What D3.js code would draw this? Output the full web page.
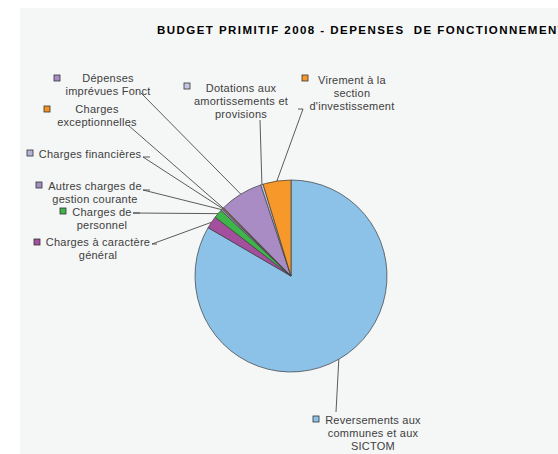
<!DOCTYPE html>
<html>
<head>
    <meta charset="UTF-8">
    <style>
        * { margin: 0; padding: 0; }
        body { background-color: #fff; }
        .lbl { font-family: "Liberation Sans", Arial, sans-serif; font-size: 11px; fill: #404040; letter-spacing: 0.25px; }
        .title { font-family: "Liberation Sans", Arial, sans-serif; font-size: 11.5px; font-weight: bold; fill: #000; letter-spacing: 1.45px; }
    </style>
    <script src="https://d3js.org/d3.v7.min.js"></script>
    <title>Budget primitif 2008</title>
</head>
<body>
<svg id="chart" width="558" height="454"></svg>
<script>
    // data, in % of the total, in slice order (clockwise from 12 o'clock)
    var categories = [
        "Reversements aux communes et aux SICTOM",
        "Charges à caractère général",
        "Charges de personnel",
        "Autres charges de gestion courante",
        "Charges financières",
        "Charges exceptionnelles",
        "Dépenses imprévues Fonct",
        "Dotations aux amortissements et provisions",
        "Virement à la section d'investissement"
    ];
    var values = [83.4, 2.1, 1.5, 0.3, 0.15, 0.15, 7.3, 0.4, 4.7];
    var colors = ["#8cc1e8", "#a44f9e", "#3db54a", "#a18fc2", "#b4b4d6",
                  "#f39222", "#a98cc4", "#c6c6e6", "#f7982a"];

    // label lines as drawn (line breaks)
    var labelLines = [
        ["Reversements aux", "communes et aux", "SICTOM"],
        ["Charges à caractère", "général"],
        ["Charges de", "personnel"],
        ["Autres charges de", "gestion courante"],
        ["Charges financières"],
        ["Charges", "exceptionnelles"],
        ["Dépenses", "imprévues Fonct"],
        ["Dotations aux", "amortissements et", "provisions"],
        ["Virement à la", "section", "d'investissement"]
    ];

    // layout: label centre, first baseline, key marker, leader line start
    var layout = [
        {x: 373, y: 424, kx: 316, ky: 419, lx: 336, ly: 412, hx: 336},
        {x: 98,  y: 246, kx: 37,  ky: 242, lx: 152, ly: 244, hx: 157},
        {x: 102, y: 216, kx: 63,  ky: 211, lx: 133, ly: 213, hx: 140},
        {x: 95,  y: 190, kx: 39,  ky: 185, lx: 143, ly: 190, hx: 150},
        {x: 90,  y: 158, kx: 30,  ky: 153, lx: 143, ly: 157, hx: 150},
        {x: 97,  y: 113, kx: 47,  ky: 109, lx: 128, ly: 125, hx: 128},
        {x: 108, y: 82,  kx: 57,  ky: 78,  lx: 141, ly: 93,  hx: 141},
        {x: 241, y: 92,  kx: 187, ky: 86,  lx: 260, ly: 120, hx: 260},
        {x: 352, y: 84,  kx: 305, ky: 78,  lx: 303, ly: 109, hx: 298}
    ];

    var svg = d3.select("#chart");
    var cx = 291, cy = 276, r = 96;

    svg.append("rect")
        .attr("x", 20).attr("y", 8)
        .attr("width", 538).attr("height", 446)
        .attr("fill", "#f5f6f6");

    svg.append("text")
        .attr("class", "title")
        .attr("x", 157).attr("y", 34)
        .style("white-space", "pre")
        .text("BUDGET PRIMITIF 2008 - DEPENSES  DE FONCTIONNEMENT");

    var pie = d3.pie().sort(null).value(function(d) { return d; });
    var arc = d3.arc().innerRadius(0).outerRadius(r);
    var arcs = pie(values);

    var g = svg.append("g")
        .attr("transform", "translate(" + cx + "," + cy + ")");

    g.selectAll(".slice")
        .data(arcs)
        .enter()
        .append("path")
        .attr("class", "slice")
        .attr("d", arc)
        .attr("fill", function(d, i) { return colors[i]; })
        .attr("stroke", "#3c3c3c")
        .attr("stroke-width", 0.7);

    // leader lines: label -> middle of the slice's outer arc
    function edgePoint(d) {
        var a = (d.startAngle + d.endAngle) / 2;
        return [cx + r * Math.sin(a), cy - r * Math.cos(a)];
    }

    svg.selectAll(".leader")
        .data(arcs)
        .enter()
        .append("polyline")
        .attr("class", "leader")
        .attr("fill", "none")
        .attr("stroke", "#333")
        .attr("stroke-width", 0.8)
        .attr("points", function(d, i) {
            var p = edgePoint(d), L = layout[i];
            return [L.hx, L.ly, L.lx, L.ly, p[0], p[1]].join(",");
        });

    // key markers
    svg.selectAll(".key")
        .data(arcs)
        .enter()
        .append("rect")
        .attr("class", "key")
        .attr("x", function(d, i) { return layout[i].kx - 3; })
        .attr("y", function(d, i) { return layout[i].ky - 3; })
        .attr("width", 6).attr("height", 6)
        .attr("fill", function(d, i) { return colors[i]; })
        .attr("stroke", "#333")
        .attr("stroke-width", 0.8);

    // labels
    svg.selectAll(".lbl")
        .data(labelLines)
        .enter()
        .append("text")
        .attr("class", "lbl")
        .attr("text-anchor", "middle")
        .each(function(lines, i) {
            var t = d3.select(this);
            lines.forEach(function(s, k) {
                t.append("tspan")
                    .attr("x", layout[i].x)
                    .attr("y", layout[i].y + k * 13)
                    .text(s);
            });
        });
</script>
</body>
</html>
